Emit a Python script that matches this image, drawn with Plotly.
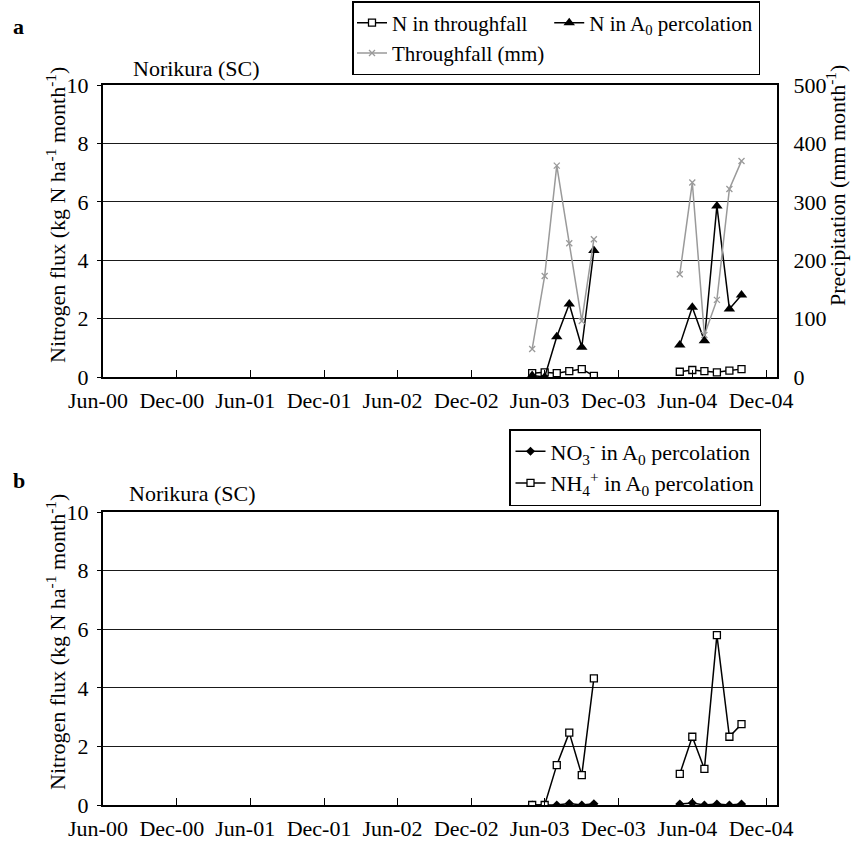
import plotly.graph_objects as go

# ---------------- data ----------------
months_2003 = ["2003-05", "2003-06", "2003-07", "2003-08", "2003-09", "2003-10"]
months_2004 = ["2004-05", "2004-06", "2004-07", "2004-08", "2004-09", "2004-10"]

# panel a
n_throughfall_2003 = [0.13, 0.16, 0.13, 0.20, 0.27, 0.04]
n_throughfall_2004 = [0.18, 0.24, 0.20, 0.16, 0.22, 0.27]
n_a0_2003 = [0.05, 0.0, 1.38, 2.50, 1.02, 4.33]
n_a0_2004 = [1.10, 2.39, 1.24, 5.86, 2.33, 2.81]
throughfall_mm_2003 = [48, 173, 362, 229, 96, 236]
throughfall_mm_2004 = [176, 333, 72, 132, 322, 370]

# panel b
no3_2003 = [0.0, 0.0, 0.0, 0.05, 0.0, 0.04]
no3_2004 = [0.03, 0.07, 0.0, 0.03, 0.0, 0.03]
nh4_2003 = [0.0, 0.0, 1.36, 2.47, 1.02, 4.32]
nh4_2004 = [1.06, 2.33, 1.23, 5.80, 2.33, 2.76]

tick_dates = ["2000-06-01", "2000-12-01", "2001-06-01", "2001-12-01", "2002-06-01",
              "2002-12-01", "2003-06-01", "2003-12-01", "2004-06-01", "2004-12-01"]
tick_labels = ["Jun-00", "Dec-00", "Jun-01", "Dec-01", "Jun-02",
               "Dec-02", "Jun-03", "Dec-03", "Jun-04", "Dec-04"]


def join(a, b):
    return list(a) + [None] + list(b)


x_all = join(months_2003, months_2004)

FONT = "Liberation Serif"
FS = 22
W, H = 852, 843
L, R, T, B = 103, 777, 85, 805  # plot-area pixel box


def px(x):
    return (x - L) / (R - L)


def py(y):
    return (B - y) / (B - T)


fig = go.Figure()

# ---- panel a ----
fig.add_trace(go.Scatter(
    x=x_all, y=join(n_throughfall_2003, n_throughfall_2004), xaxis="x", yaxis="y",
    mode="lines+markers", name="N in throughfall", legend="legend", legendgroup="g1",
    line=dict(color="black", width=1.5), connectgaps=False,
    marker=dict(symbol="square", size=7, color="white", line=dict(color="black", width=1.3)),
))
fig.add_trace(go.Scatter(
    x=x_all, y=join(n_a0_2003, n_a0_2004), xaxis="x", yaxis="y",
    mode="lines+markers", name="N in A<sub>0</sub> percolation", legend="legend", legendgroup="g2",
    line=dict(color="black", width=1.5), connectgaps=False,
    marker=dict(symbol="triangle-up", size=10, color="black"),
))
fig.add_trace(go.Scatter(
    x=x_all, y=join(throughfall_mm_2003, throughfall_mm_2004), xaxis="x", yaxis="y2",
    mode="lines+markers", name="Throughfall (mm)", legend="legend", legendgroup="g1",
    line=dict(color="#9a9a9a", width=1.5), connectgaps=False,
    marker=dict(symbol="x-thin", size=6, color="#9a9a9a", line=dict(color="#9a9a9a", width=1.3)),
))

# ---- panel b ----
fig.add_trace(go.Scatter(
    x=x_all, y=join(no3_2003, no3_2004), xaxis="x2", yaxis="y3",
    mode="lines+markers", name="NO<sub>3</sub><sup>-</sup> in A<sub>0</sub> percolation", legend="legend2",
    line=dict(color="black", width=1.5), connectgaps=False,
    marker=dict(symbol="diamond", size=7, color="black"),
))
fig.add_trace(go.Scatter(
    x=x_all, y=join(nh4_2003, nh4_2004), xaxis="x2", yaxis="y3",
    mode="lines+markers", name="NH<sub>4</sub><sup>+</sup> in A<sub>0</sub> percolation", legend="legend2",
    line=dict(color="black", width=1.5), connectgaps=False,
    marker=dict(symbol="square", size=7, color="white", line=dict(color="black", width=1.3)),
))

xr = ["2000-06-01", "2004-12-28"]
tickfont = dict(family=FONT, size=FS, color="black")
common_x = dict(
    type="date", range=xr, domain=[0, 1], tickmode="array", tickvals=tick_dates, ticktext=tick_labels,
    ticks="inside", ticklen=7, tickcolor="black", tickwidth=1,
    showline=True, linecolor="black", linewidth=2, mirror=True, showgrid=False, zeroline=False,
    tickfont=tickfont, ticklabelshift=-5, ticklabelstandoff=3, automargin=False,
)
common_y = dict(
    range=[0, 10], tickmode="array", tickvals=[0, 2, 4, 6, 8, 10],
    ticks="outside", ticklen=4, tickcolor="black",
    showline=True, linecolor="black", linewidth=2, mirror=True,
    showgrid=True, gridcolor="#1a1a1a", gridwidth=1, zeroline=False,
    tickfont=tickfont, ticklabelstandoff=4, automargin=False,
)

fig.update_layout(
    width=W, height=H,
    margin=dict(l=L, r=W - R, t=T, b=H - B, autoexpand=False),
    paper_bgcolor="white", plot_bgcolor="white",
    font=dict(family=FONT, size=FS, color="black"),
    showlegend=True,
    xaxis=dict(common_x, anchor="y"),
    yaxis=dict(common_y, domain=[py(377), 1], anchor="x"),
    yaxis2=dict(range=[0, 500], tickmode="array", tickvals=[0, 100, 200, 300, 400, 500],
                overlaying="y", side="right", anchor="x", showgrid=False, zeroline=False,
                showline=True, linecolor="black", linewidth=2, ticks="",
                tickfont=tickfont, ticklabelstandoff=10, automargin=False),
    xaxis2=dict(common_x, anchor="y3"),
    yaxis3=dict(common_y, domain=[0, py(512)], anchor="x2"),
    legend=dict(
        orientation="h", traceorder="grouped", tracegroupgap=0,
        x=px(352), y=py(1), xanchor="left", yanchor="top",
        bordercolor="black", borderwidth=1.5, bgcolor="white",
        itemwidth=30, font=dict(family=FONT, size=21, color="black"),
        itemclick=False, itemdoubleclick=False,
    ),
    legend2=dict(
        orientation="v", traceorder="normal",
        x=px(509), y=py(429), xanchor="left", yanchor="top",
        bordercolor="black", borderwidth=1.5, bgcolor="white",
        itemwidth=30, font=dict(family=FONT, size=FS, color="black"),
        itemclick=False, itemdoubleclick=False,
    ),
)

ytitle = "Nitrogen flux (kg N ha<sup>-1</sup> month<sup>-1</sup>)"
ann = [
    dict(text="<b>a</b>", x=px(11), y=py(26), xanchor="left", yanchor="middle", font=dict(size=22)),
    dict(text="<b>b</b>", x=px(11), y=py(480), xanchor="left", yanchor="middle", font=dict(size=22)),
    dict(text="Norikura (SC)", x=px(131), y=py(68), xanchor="left", yanchor="middle"),
    dict(text="Norikura (SC)", x=px(127), y=py(493), xanchor="left", yanchor="middle"),
    dict(text=ytitle, x=px(56), y=py(215), textangle=-90, xanchor="center", yanchor="middle"),
    dict(text=ytitle, x=px(56), y=py(642), textangle=-90, xanchor="center", yanchor="middle"),
    dict(text="Precipitation (mm month<sup>-1</sup>)", x=px(836), y=py(186), textangle=-90,
         xanchor="center", yanchor="middle"),
]
for a in ann:
    a.update(xref="paper", yref="paper", showarrow=False)
    f = dict(family=FONT, size=FS, color="black")
    f.update(a.get("font", {}))
    a["font"] = f
fig.update_layout(annotations=ann)

fig.write_html("out.html", config={"displayModeBar": False},
               post_script="document.body.style.margin='0px';")
